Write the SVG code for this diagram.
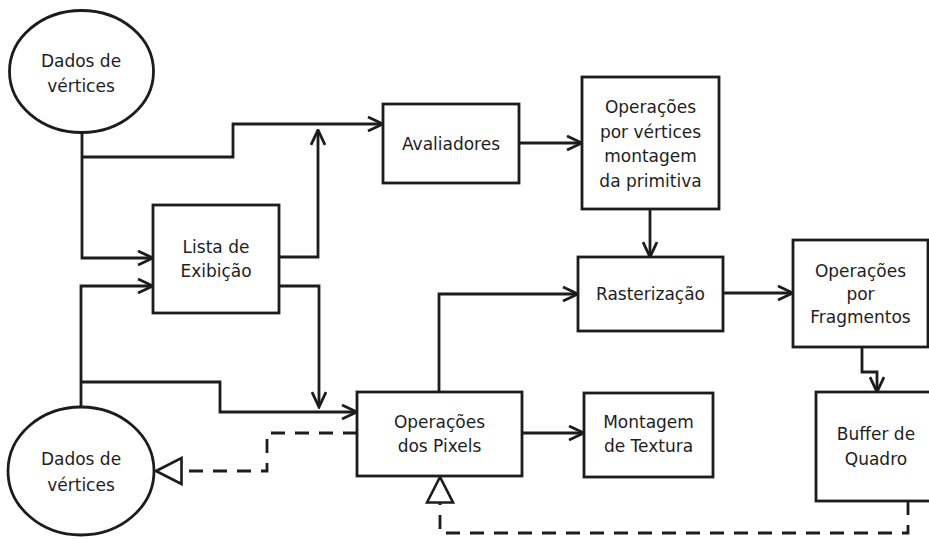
<svg xmlns="http://www.w3.org/2000/svg" width="929" height="539" viewBox="0 0 929 539">
<style>
.shape{fill:#fff;stroke:#1c1c1c;stroke-width:2.8}
.lbl{font-family:"DejaVu Sans",sans-serif;font-size:17px;fill:#1e1e1e;text-anchor:middle}
.conn{fill:none;stroke:#1c1c1c;stroke-width:2.8}
.dash{stroke-dasharray:14 10}
.arr{marker-end:url(#open)}
.tri{marker-end:url(#hollow)}
</style>
<defs>
<marker id="open" markerUnits="userSpaceOnUse" viewBox="0 0 18 16" markerWidth="18" markerHeight="16" refX="16.5" refY="8" orient="auto">
<path d="M1.5,1 L16.5,8 L1.5,15" fill="none" stroke="#1c1c1c" stroke-width="2.8"/>
</marker>
<marker id="hollow" markerUnits="userSpaceOnUse" viewBox="0 0 30 30" markerWidth="30" markerHeight="30" refX="27.5" refY="15" orient="auto">
<path d="M2,2 L27.5,15 L2,28 Z" fill="#fff" stroke="#1c1c1c" stroke-width="2.6" stroke-dasharray="none"/>
</marker>
</defs>
<g id="connectors">
<path class="conn arr" d="M82,133 V258 H153"/>
<path class="conn arr" d="M82,157 H233 V124 H383"/>
<path class="conn arr" d="M81,407 V286 H153"/>
<path class="conn arr" d="M81,382 H220 V412 H357"/>
<path class="conn arr" d="M279,257 H318 V130"/>
<path class="conn arr" d="M279,286 H319 V407"/>
<path class="conn arr" d="M519,143 H582"/>
<path class="conn arr" d="M650,209 V257"/>
<path class="conn arr" d="M439,392 V294 H578"/>
<path class="conn arr" d="M723,293 H793"/>
<path class="conn arr" d="M862,347 V372 H877 V392"/>
<path class="conn arr" d="M522,433 H584"/>
<path class="conn dash tri" d="M357,433 H267 V471 H156"/>
<path class="conn dash tri" d="M908,501 V533 H440 V477"/>
</g>
<g id="dados-top">
<ellipse class="shape" cx="81.5" cy="71.5" rx="72" ry="61"/>
<text class="lbl" x="81" y="67">Dados de</text>
<text class="lbl" x="81" y="92">vértices</text>
</g>
<g id="dados-bottom">
<ellipse class="shape" cx="81" cy="471" rx="73" ry="64"/>
<text class="lbl" x="81" y="465">Dados de</text>
<text class="lbl" x="81" y="491">vértices</text>
</g>
<g id="lista">
<rect class="shape" x="153" y="205" width="126" height="108"/>
<text class="lbl" x="216" y="253">Lista de</text>
<text class="lbl" x="216" y="277">Exibição</text>
</g>
<g id="avaliadores">
<rect class="shape" x="383" y="104" width="136" height="79"/>
<text class="lbl" x="451" y="150">Avaliadores</text>
</g>
<g id="op-vertices">
<rect class="shape" x="582" y="77" width="137" height="132"/>
<text class="lbl" x="650.5" y="113">Operações</text>
<text class="lbl" x="650.5" y="138">por vértices</text>
<text class="lbl" x="650.5" y="162">montagem</text>
<text class="lbl" x="650.5" y="187">da primitiva</text>
</g>
<g id="rasterizacao">
<rect class="shape" x="578" y="257" width="145" height="74"/>
<text class="lbl" x="650.5" y="300">Rasterização</text>
</g>
<g id="op-fragmentos">
<rect class="shape" x="793" y="240" width="135" height="107"/>
<text class="lbl" x="860.5" y="277">Operações</text>
<text class="lbl" x="860.5" y="300">por</text>
<text class="lbl" x="860.5" y="323">Fragmentos</text>
</g>
<g id="buffer">
<rect class="shape" x="816" y="392" width="120" height="109"/>
<text class="lbl" x="876" y="440">Buffer de</text>
<text class="lbl" x="876" y="465">Quadro</text>
</g>
<g id="op-pixels">
<rect class="shape" x="357" y="392" width="165" height="84"/>
<text class="lbl" x="439.5" y="428">Operações</text>
<text class="lbl" x="439.5" y="452">dos Pixels</text>
</g>
<g id="montagem">
<rect class="shape" x="584" y="393" width="129" height="84"/>
<text class="lbl" x="648.5" y="428">Montagem</text>
<text class="lbl" x="648.5" y="452">de Textura</text>
</g>
</svg>
